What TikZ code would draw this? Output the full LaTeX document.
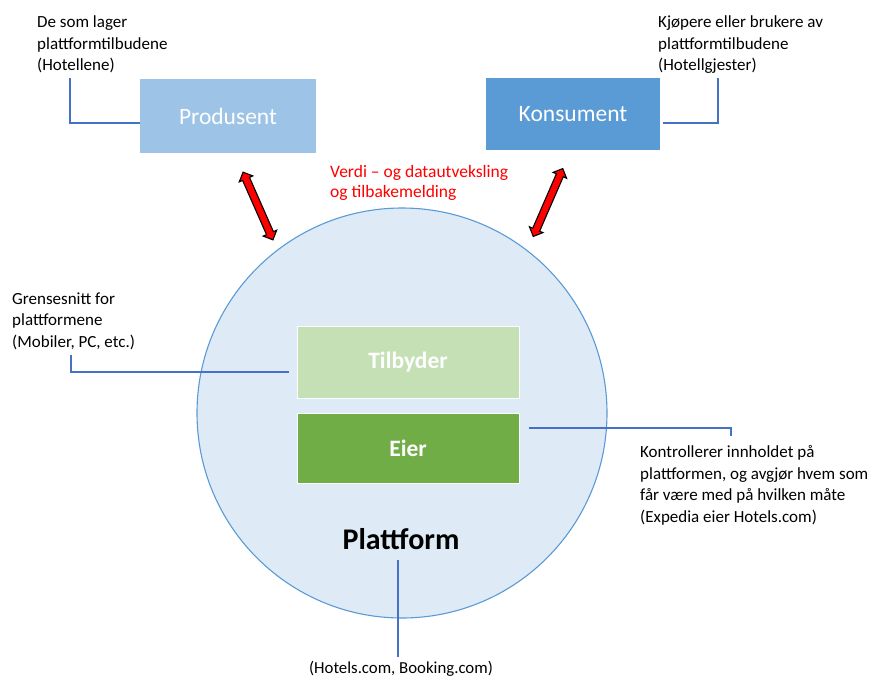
\documentclass[tikz,border=0pt]{standalone}
\usepackage{fontspec}
\setmainfont{Carlito}
\usetikzlibrary{shapes.arrows}
\definecolor{prodc}{HTML}{9DC3E6}
\definecolor{konsc}{HTML}{5B9BD5}
\definecolor{circfill}{HTML}{DEEBF7}
\definecolor{circline}{HTML}{5B9BD5}
\definecolor{tilbc}{HTML}{C5E0B4}
\definecolor{eierc}{HTML}{70AD47}
\definecolor{connc}{HTML}{4472C4}
\begin{document}
\begin{tikzpicture}[x=1pt,y=-1pt,
  box/.style={rectangle, inner sep=0pt, text=white},
  note/.style={inner sep=0pt, anchor=north west, align=left, font=\fontsize{17}{21.5}\selectfont},
  conn/.style={draw=connc, line width=1.2pt},
  dblarrow/.style={double arrow, draw=black, fill=red, line width=1.1pt, inner sep=3.2pt,
    double arrow head extend=3.6pt, minimum height=74pt}]
\useasboundingbox (0,0) rectangle (873,678);
\fill[white] (0,0) rectangle (873,678);
% platform circle
\node[circle, minimum size=410pt, inner sep=0pt, fill=circfill, draw=circline, line width=1.1pt] (plat) at (402,413) {};
% boxes
\node[box, fill=prodc, minimum width=176pt, minimum height=74pt, font=\fontsize{23.5}{28}\selectfont] (prod) at (228,116) {Produsent};
\node[box, fill=konsc, minimum width=174pt, minimum height=72pt, font=\fontsize{23.5}{28}\selectfont] (kons) at (573,114) {Konsument};
\node[box, fill=tilbc, draw=white, line width=1pt, minimum width=222pt, minimum height=72pt, font=\fontsize{23.5}{28}\bfseries] (tilb) at (408,362) {Tilbyder};
\node[box, fill=eierc, draw=white, line width=1pt, minimum width=222pt, minimum height=70pt, font=\fontsize{23.5}{28}\bfseries] (eier) at (408,448) {Eier};
\node[inner sep=0pt, anchor=base, font=\fontsize{30}{36}\bfseries] (platlbl) at (401,549) {Plattform};
% notes
\node[note] (n1) at (37,15.5) {De som lager\\plattformtilbudene\\(Hotellene)};
\node[note] (n2) at (658,15.5) {Kjøpere eller brukere av\\plattformtilbudene\\(Hotellgjester)};
\node[note] (n3) at (12,292.5) {Grensesnitt for\\plattformene\\(Mobiler, PC, etc.)};
\node[note] (n4) at (640,445.5) {Kontrollerer innholdet på\\plattformen, og avgjør hvem som\\får være med på hvilken måte\\(Expedia eier Hotels.com)};
\node[note, text=red, font=\fontsize{17.5}{20}\selectfont] (red) at (330,165) {Verdi – og datautveksling\\og tilbakemelding};
\node[inner sep=0pt, anchor=base, font=\fontsize{16.8}{20}\selectfont] (hotels) at (401,673) {(Hotels.com, Booking.com)};
% red double arrows
\node[dblarrow, rotate=-66.2] (a1) at (258,206) {};
\node[dblarrow, rotate=66.5] (a2) at (548,202.5) {};
% connectors
\coordinate (c1) at (70,78);
\draw[conn] (c1) |- ([yshift=-7pt]prod.west);
\coordinate (c2) at (718,78);
\draw[conn] (c2) |- ([xshift=3pt,yshift=-9pt]kons.east);
\coordinate (c3) at (71,355);
\draw[conn] (c3) |- ([xshift=-8pt,yshift=-10pt]tilb.west);
\coordinate (c4) at (731,436);
\draw[conn] ([xshift=9pt,yshift=20pt]eier.east) -| (c4);
\coordinate (c5) at (398,560);
\coordinate (c6) at (398,657);
\draw[conn] (c5) -- (c6);
\end{tikzpicture}
\end{document}
